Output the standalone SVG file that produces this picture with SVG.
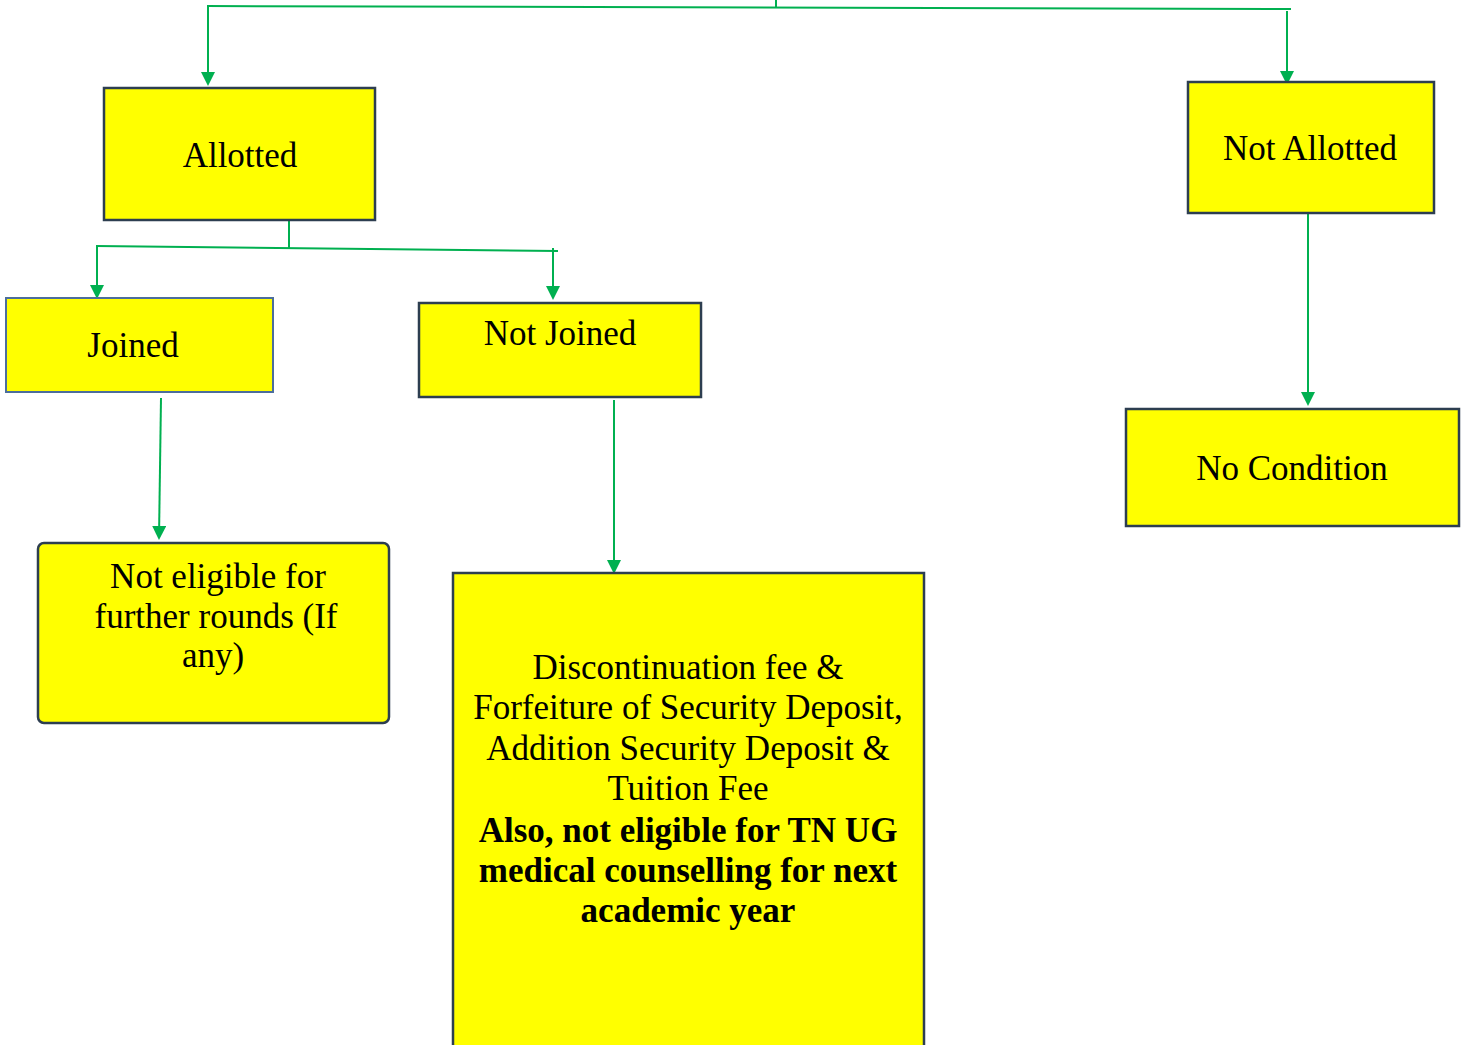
<svg xmlns="http://www.w3.org/2000/svg" width="1466" height="1045" viewBox="0 0 1466 1045">
<defs>
<marker id="ah" markerWidth="14" markerHeight="14" viewBox="0 0 14 14" refX="12" refY="7" orient="auto" markerUnits="userSpaceOnUse">
<path d="M0,0 L14,7 L0,14 Z" fill="#00B050"/>
</marker>
</defs>
<style>
.box{fill:#FFFF00;stroke:#2D3E50;stroke-width:2.5}
.box2{fill:#FFFF00;stroke:#4C6E9C;stroke-width:2}
.t{font-family:"Liberation Serif","Times New Roman",serif;font-size:35px;fill:#000;text-anchor:middle}
.b{font-weight:bold}
.c{fill:none;stroke:#00B050;stroke-width:2}
.ca{fill:none;stroke:#00B050;stroke-width:2;marker-end:url(#ah)}
</style>
<rect width="1466" height="1045" fill="#FFFFFF"/>
<g id="connectors">
<line class="c" x1="776" y1="0" x2="776" y2="7"/>
<line class="c" x1="207" y1="6" x2="1291" y2="9"/>
<line class="ca" x1="208" y1="6" x2="208" y2="84"/>
<line class="ca" x1="1287" y1="11" x2="1287" y2="83"/>
<line class="ca" x1="1308" y1="213" x2="1308" y2="404"/>
<line class="c" x1="289" y1="220" x2="289" y2="248"/>
<line class="c" x1="96" y1="246" x2="558" y2="251"/>
<line class="ca" x1="97" y1="247" x2="97" y2="297"/>
<line class="ca" x1="553" y1="248" x2="553" y2="298"/>
<line class="ca" x1="161" y1="398" x2="159" y2="538"/>
<line class="ca" x1="614" y1="400" x2="614" y2="572"/>
</g>
<g id="allotted">
<rect class="box" x="104" y="88" width="271" height="132"/>
<text class="t" x="240" y="167">Allotted</text>
</g>
<g id="not-allotted">
<rect class="box" x="1188" y="82" width="246" height="131"/>
<text class="t" x="1310" y="160">Not Allotted</text>
</g>
<g id="joined">
<rect class="box2" x="6" y="298" width="267" height="94"/>
<text class="t" x="133" y="357">Joined</text>
</g>
<g id="not-joined">
<rect class="box" x="419" y="303" width="282" height="94"/>
<text class="t" x="560" y="345">Not Joined</text>
</g>
<g id="no-condition">
<rect class="box" x="1126" y="409" width="333" height="117"/>
<text class="t" x="1292" y="480">No Condition</text>
</g>
<g id="not-eligible">
<rect class="box" x="38" y="543" width="351" height="180" rx="6" ry="6"/>
<text class="t" x="218" y="588">Not eligible for</text>
<text class="t" x="216" y="628">further rounds (If</text>
<text class="t" x="213" y="667">any)</text>
</g>
<g id="discontinuation">
<rect class="box" x="453" y="573" width="471" height="480"/>
<text class="t" x="688" y="679">Discontinuation fee &amp;</text>
<text class="t" x="688" y="719">Forfeiture of Security Deposit,</text>
<text class="t" x="688" y="760">Addition Security Deposit &amp;</text>
<text class="t" x="688" y="800">Tuition Fee</text>
<text class="t b" x="688" y="842">Also, not eligible for TN UG</text>
<text class="t b" x="688" y="882">medical counselling for next</text>
<text class="t b" x="688" y="922">academic year</text>
</g>
</svg>
